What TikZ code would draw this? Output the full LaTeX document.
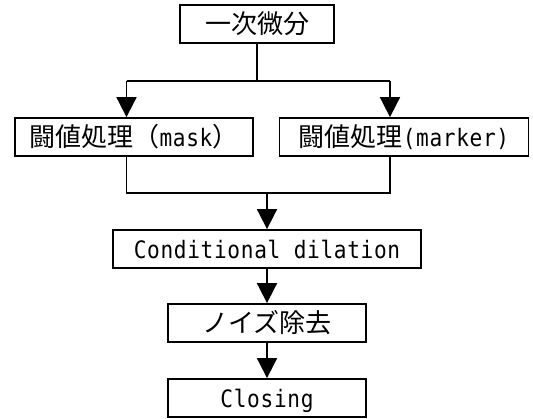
\documentclass[tikz,border=0pt]{standalone}
\usepackage{fontspec}
\usetikzlibrary{arrows.meta}
\newfontfamily\jpfont{Noto Sans CJK JP}
\newfontfamily\latfont[FakeStretch=0.88,LetterSpace=2.8]{DejaVu Sans Mono}
\newcommand\jpx[1]{{\jpfont\fontsize{26}{30}\selectfont #1}}
\newcommand\latx[1]{{\latfont\fontsize{24}{28}\selectfont #1}}
\begin{document}
\begin{tikzpicture}[x=1pt,y=-1pt,
  box/.style={draw,line width=1.8pt,minimum height=38pt,inner sep=0pt,
              text height=22pt,text depth=4pt},
  conn/.style={line width=1.8pt},
  arr/.style={conn,-{Triangle[width=20pt,length=20pt]}}]
\useasboundingbox (0,0) rectangle (533,418);
\node[box,minimum width=154pt] (n1) at (257,24) {\jpx{一次微分}};
\node[box,minimum width=238pt] (mask) at (134,137) {\jpx{闘値処理（}\latx{mask}\jpx{）}};
\node[box,minimum width=249pt] (marker) at (404,137) {\jpx{闘値処理}\latx{(marker)}};
\node[box,minimum width=308pt] (cd) at (267,249) {\latx{Conditional dilation}};
\node[box,minimum width=198pt] (noise) at (267,323) {\jpx{ノイズ除去}};
\node[box,minimum width=198pt] (closing) at (267,398) {\latx{Closing}};
\coordinate (split) at (257,81);
\coordinate (jl) at (126.5,81);
\coordinate (jr) at (390,81);
\coordinate (jm) at (267,193);
\draw[conn] (n1.south) -- (split);
\draw[conn] (jl) -- (jr);
\draw[arr] (jl) -- (jl |- mask.north);
\draw[arr] (jr) -- (jr |- marker.north);
\draw[conn] (jl |- mask.south) |- (jm) -| (jr |- marker.south);
\draw[arr] (jm) -- (cd.north);
\draw[arr] (cd.south) -- (noise.north);
\draw[arr] (noise.south) -- (closing.north);
\end{tikzpicture}
\end{document}
